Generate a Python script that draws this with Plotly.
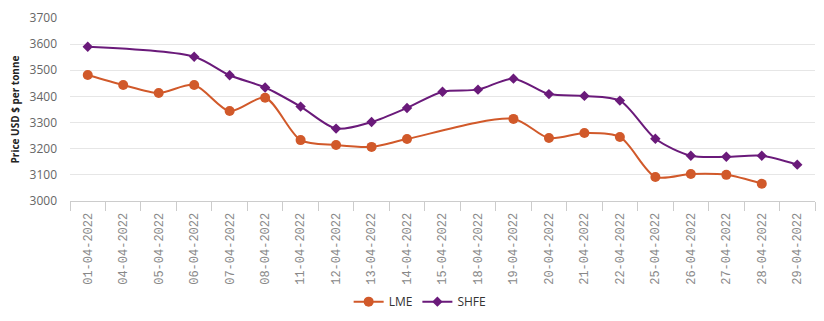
import plotly.graph_objects as go

dates = ["01-04-2022", "04-04-2022", "05-04-2022", "06-04-2022", "07-04-2022",
         "08-04-2022", "11-04-2022", "12-04-2022", "13-04-2022", "14-04-2022",
         "15-04-2022", "18-04-2022", "19-04-2022", "20-04-2022", "21-04-2022",
         "22-04-2022", "25-04-2022", "26-04-2022", "27-04-2022", "28-04-2022",
         "29-04-2022"]
lme = [3482, 3444, 3413, 3444, 3344, 3395, 3233, 3214, 3207, 3237,
       None, None, 3314, 3241, 3260, 3245, 3092, 3103, 3100, 3066, None]
shfe = [3590, None, None, 3552, 3481, 3434, 3361, 3277, 3302, 3356,
        3418, 3426, 3468, 3409, 3402, 3384, 3238, 3173, 3169, 3173, 3139]

fig = go.Figure()
fig.add_trace(go.Scatter(
    x=dates, y=lme, name="LME", mode="lines+markers", connectgaps=True,
    line=dict(color="#d1592a", width=2, shape="spline", smoothing=0.8),
    marker=dict(symbol="circle", size=10, color="#d1592a")))
fig.add_trace(go.Scatter(
    x=dates, y=shfe, name="SHFE", mode="lines+markers", connectgaps=True,
    line=dict(color="#6a1a7a", width=2, shape="spline", smoothing=0.8),
    marker=dict(symbol="diamond", size=8, color="#6a1a7a")))

fig.update_layout(
    width=824, height=321,
    margin=dict(l=70, r=9, t=18, b=120, autoexpand=False),
    paper_bgcolor="white", plot_bgcolor="white",
    font=dict(family="Open Sans", color="#666666", size=11),
    showlegend=True,
    legend=dict(orientation="h", x=0.47, xanchor="center",
                y=-0.55, yanchor="middle",
                font=dict(size=12, color="#333333", family="Open Sans"),
                itemwidth=30),
    xaxis=dict(type="category", tickangle=-90, tickson="boundaries",
               ticks="outside", ticklen=9, tickcolor="#cccccc",
               showline=True, linecolor="#cccccc", showgrid=False,
               ticklabelstandoff=6,
               tickfont=dict(size=12, color="#888888", family="Liberation Mono"),
               range=[-0.5, 20.5]),
    yaxis=dict(range=[3000, 3700], dtick=100, gridcolor="#e6e6e6",
               zeroline=False, showline=False, ticks="",
               ticklabelstandoff=12,
               tickfont=dict(size=12, color="#666666"),
               title=dict(text="<b>Price USD $ per tonne</b>",
                          font=dict(size=10, color="#222222"), standoff=8)),
)
fig.write_html("out.html")
